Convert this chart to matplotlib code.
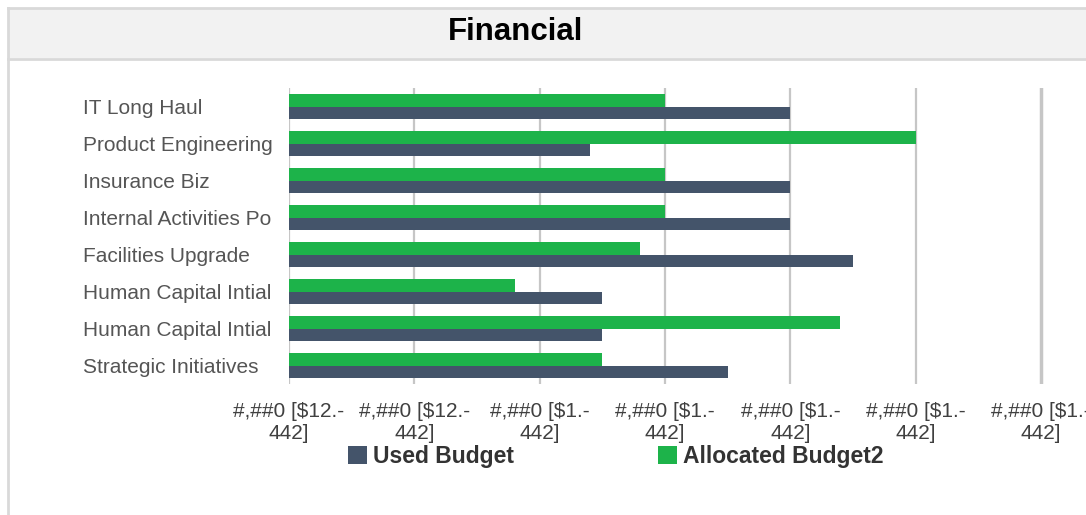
import matplotlib.pyplot as plt
from matplotlib.patches import Rectangle, Patch
from matplotlib.lines import Line2D

plt.rcParams['font.family'] = ['Liberation Sans', 'DejaVu Sans']

# данные графика
categories = ['IT Long Haul', 'Product Engineering', 'Insurance Biz', 'Internal Activities Po',
              'Facilities Upgrade', 'Human Capital Intial', 'Human Capital Intial', 'Strategic Initiatives']
used_budget = [4.0, 2.4, 4.0, 4.0, 4.5, 2.5, 2.5, 3.5]
allocated_budget = [3.0, 5.0, 3.0, 3.0, 2.8, 1.8, 4.4, 2.5]
tick_values = [0, 1, 2, 3, 4, 5, 6]
tick_labels = ['#,##0 [$12.-\n442]', '#,##0 [$12.-\n442]', '#,##0 [$1.-\n442]', '#,##0 [$1.-\n442]',
               '#,##0 [$1.-\n442]', '#,##0 [$1.-\n442]', '#,##0 [$1.-\n442]']

col_used = '#44546a'
col_alloc = '#1db34a'
col_grid = '#c6c6c6'
col_text = '#404040'

W, H = 1086, 515
fig = plt.figure(figsize=(W / 100, H / 100), dpi=100)

# рамка панели и заголовок
fig.patches.append(Rectangle((8 / W, (H - 58) / H), 1 - 8 / W, 50 / H, transform=fig.transFigure,
                             facecolor='#f2f2f2', edgecolor='none'))
fig.lines.append(Line2D([8 / W, 1], [(H - 8) / H, (H - 8) / H], transform=fig.transFigure, color='#d9d9d9', lw=2))
fig.lines.append(Line2D([8 / W, 1], [(H - 59) / H, (H - 59) / H], transform=fig.transFigure, color='#d9d9d9', lw=2))
fig.lines.append(Line2D([8 / W, 8 / W], [0, (H - 8) / H], transform=fig.transFigure, color='#d9d9d9', lw=2))
fig.text(516 / W, (H - 32) / H, 'Financial', ha='center', va='center', fontsize=22.5, fontweight='bold', color='black')

# область графика
x0, x1 = 289, W
y_top, y_bot = 88, 384
ax = fig.add_axes([x0 / W, (H - y_bot) / H, (x1 - x0) / W, (y_bot - y_top) / H])
unit = 125.33
ax.set_xlim(0, (x1 - x0) / unit)
ax.set_ylim(len(categories) - 0.5, -0.5)

pos = list(range(len(categories)))
h = 0.33
ax.barh([p - h / 2 for p in pos], allocated_budget, height=h, color=col_alloc, zorder=2)
ax.barh([p + h / 2 for p in pos], used_budget, height=h, color=col_used, zorder=2)

for v in tick_values:
    ax.axvline(v, color=col_grid, lw=2.5 if v == tick_values[-1] else 1.6, zorder=1)

for s in ax.spines.values():
    s.set_visible(False)

# подписи осей
ax.set_yticks(pos)
ax.set_yticklabels(categories, fontsize=15, color='#555555', ha='left')
ax.tick_params(axis='y', length=0, pad=(289 - 83) * 0.72)
ax.set_xticks(tick_values)
ax.set_xticklabels(tick_labels, fontsize=15, color=col_text, multialignment='center')
ax.tick_params(axis='x', length=0, pad=13)

# легенда
handles = [Patch(facecolor=col_used, label='Used Budget'), Patch(facecolor=col_alloc, label='Allocated Budget2')]
fig.legend(handles=handles, loc='center left', bbox_to_anchor=(348 / W, (H - 456) / H), ncol=2, frameon=False,
           prop={'size': 16.5, 'weight': 'bold'}, labelcolor='#333333', handlelength=0.83, handleheight=0.83,
           handletextpad=0.26, columnspacing=6.3, borderpad=0, borderaxespad=0)

fig.savefig('out.png', dpi=100)
